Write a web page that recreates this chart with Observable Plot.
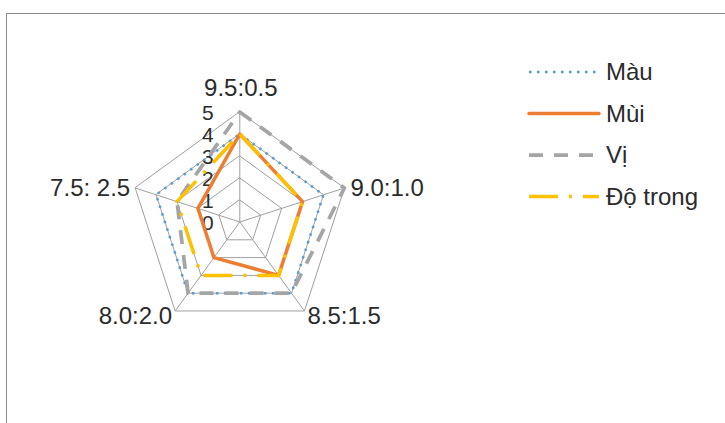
<!DOCTYPE html>
<html>
<head>
<meta charset="utf-8">
<script src="https://cdn.jsdelivr.net/npm/d3@7"></script>
<script src="https://cdn.jsdelivr.net/npm/@observablehq/plot@0.6"></script>
<style>
  html, body { margin: 0; padding: 0; background: #fff; overflow: hidden; }
  #wrap { position: relative; width: 725px; height: 423px; overflow: hidden; font-family: "Liberation Sans", Arial, sans-serif; }
  #frame { position: absolute; left: 6px; top: 13px; width: 900px; height: 600px; border-left: 1px solid #8c8c8c; border-top: 1px solid #8c8c8c; box-sizing: border-box; }
  #chart { position: absolute; left: 0; top: 0; }
  #legend { position: absolute; left: 0; top: 0; width: 725px; height: 423px; pointer-events: none; }
</style>
</head>
<body>
<div id="wrap">
  <div id="frame"></div>
  <div id="chart"></div>
  <svg id="legend" width="725" height="423"></svg>
</div>
<script>
// ---- data ----
const axes = ["9.5:0.5", "9.0:1.0", "8.5:1.5", "8.0:2.0", "7.5: 2.5"];
const mau = [4, 4, 4, 4, 4];
const mui = [4, 3, 3, 2, 2];
const vi = [5, 5, 4, 4, 3];
const doTrong = [4, 3, 3, 3, 3];
const seriesNames = ["Màu", "Mùi", "Vị", "Độ trong"];
const ringTicks = [0, 1, 2, 3, 4, 5];

// ---- styles ----
const seriesStyle = [
  {stroke: "#5B9BD5", width: 2.5, dash: "2.5,5.5", cap: "butt"},
  {stroke: "#ED7D31", width: 3.5, dash: null, cap: "round"},
  {stroke: "#A5A5A5", width: 3.75, dash: "14,11", cap: "butt"},
  {stroke: "#FFC000", width: 3.5, dash: "29,11,3,11", cap: "butt"}
];
const labelLayout = [
  {anchor: "middle", dx: 1, dy: -24},
  {anchor: "start", dx: 6, dy: 0},
  {anchor: "start", dx: 3, dy: 5},
  {anchor: "end", dx: -3, dy: 5},
  {anchor: "end", dx: -5, dy: 0}
];

const seriesValues = [mau, mui, vi, doTrong];
const maxV = 5;
const cx = 239.3, cy = 221.5, R = 110;

function pt(i, v) {
  const th = (90 - 72 * i) * Math.PI / 180;
  return {x: v * Math.cos(th), y: v * Math.sin(th)};
}

const ringData = [];
for (const r of ringTicks.filter(d => d > 0)) {
  axes.forEach((a, i) => ringData.push({r, ...pt(i, r)}));
}
const spokeData = axes.map((a, i) => ({axis: a, ...pt(i, maxV)}));
const seriesData = seriesValues.map((vals, s) =>
  vals.map((v, i) => ({series: seriesNames[s], axis: axes[i], value: v, ...pt(i, v)})));

const textColor = "#2b2b2b";
const gridColor = "#a0a0a0";

const marks = [
  Plot.line(ringData, {x: "x", y: "y", z: "r", curve: "linear-closed", stroke: gridColor, strokeWidth: 1}),
  Plot.link(spokeData, {x1: () => 0, y1: () => 0, x2: "x", y2: "y", stroke: gridColor, strokeWidth: 1}),
  Plot.text(ringTicks, {x: () => 0, y: d => d, text: d => String(d), textAnchor: "end", dx: -26, dy: 1, fontSize: 21, fill: textColor})
];
seriesData.forEach((data, s) => {
  const st = seriesStyle[s];
  marks.push(Plot.line(data, {
    x: "x", y: "y", curve: "linear-closed",
    stroke: st.stroke, strokeWidth: st.width,
    strokeDasharray: st.dash || undefined, strokeLinecap: st.cap, strokeLinejoin: "round"
  }));
});
spokeData.forEach((d, i) => {
  const L = labelLayout[i];
  marks.push(Plot.text([d], {x: "x", y: "y", text: "axis", textAnchor: L.anchor, dx: L.dx, dy: L.dy, fontSize: 24, fill: textColor}));
});

const chart = Plot.plot({
  width: 725,
  height: 423,
  margin: 0,
  style: {background: "transparent", fontFamily: "'Liberation Sans', Arial, sans-serif", overflow: "visible"},
  x: {type: "linear", domain: [0, maxV], range: [cx, cx + R], axis: null},
  y: {type: "linear", domain: [0, maxV], range: [cy, cy - R], axis: null},
  marks
});
document.getElementById("chart").appendChild(chart);

// ---- legend ----
const leg = d3.select("#legend");
const legX0 = 529, legX1 = 599, legTextX = 606, legY0 = 72, legStep = 41.5;
seriesNames.forEach((name, s) => {
  const st = seriesStyle[s];
  const y = legY0 + s * legStep;
  leg.append("line")
    .attr("x1", legX0).attr("x2", legX1).attr("y1", y).attr("y2", y)
    .attr("stroke", st.stroke).attr("stroke-width", st.width)
    .attr("stroke-dasharray", st.dash)
    .attr("stroke-linecap", st.cap);
  leg.append("text")
    .attr("x", legTextX).attr("y", y).attr("dy", "0.35em")
    .attr("font-size", 24).attr("fill", textColor)
    .attr("font-family", "'Liberation Sans', Arial, sans-serif")
    .text(name);
});
</script>
</body>
</html>
